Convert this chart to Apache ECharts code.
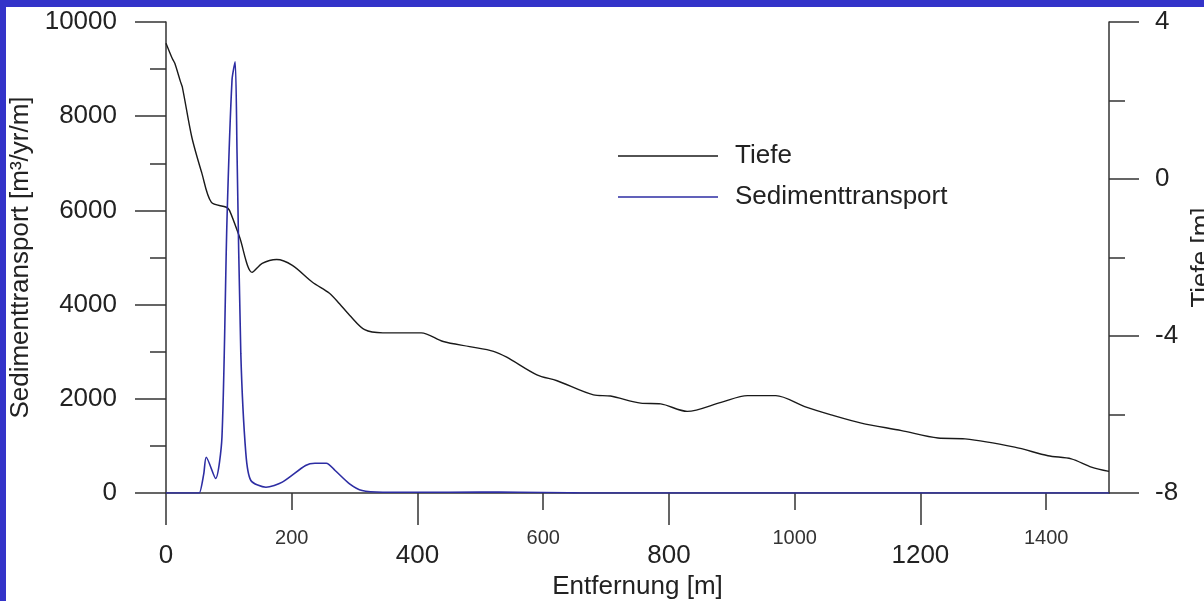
<!DOCTYPE html>
<html>
<head>
<meta charset="utf-8">
<script src="https://cdn.jsdelivr.net/npm/echarts@6/dist/echarts.min.js"></script>
<style>
html,body{margin:0;padding:0;background:#fff;}
#c{width:1204px;height:601px;}
</style>
</head>
<body>
<div id="c"></div>
<script>
// Tiefe (depth, right axis) [m] vs. Entfernung [m]
const tiefeDist = [0, 10, 14, 23, 26, 41, 57, 72, 96, 101, 117, 137, 153, 176, 201, 233, 260, 276, 292, 316, 345, 406, 441, 483, 521, 542, 590, 622, 680, 707, 755, 787, 829, 883, 925, 970, 1016, 1058, 1106, 1170, 1228, 1271, 1350, 1403, 1440, 1472, 1500];
const tiefeVal  = [3.46, 3.07, 2.95, 2.48, 2.34, 1.07, 0.15, -0.59, -0.72, -0.80, -1.48, -2.38, -2.15, -2.05, -2.20, -2.63, -2.91, -3.18, -3.47, -3.84, -3.92, -3.92, -4.14, -4.27, -4.39, -4.54, -4.99, -5.14, -5.50, -5.53, -5.71, -5.73, -5.92, -5.69, -5.52, -5.52, -5.80, -6.01, -6.22, -6.41, -6.60, -6.62, -6.83, -7.05, -7.13, -7.34, -7.45];

// Sedimenttransport (left axis) [m3/yr/m] vs. Entfernung [m]
const sedDist = [0, 50, 53, 60, 64, 79, 89, 97, 105, 110, 113, 119, 127, 135, 159, 185, 222, 237, 255, 269, 292, 312, 345, 400, 500, 560, 640, 660, 1000, 1500];
const sedVal  = [0, 0, 0, 400, 760, 308, 1186, 5790, 8766, 9155, 7214, 2964, 842, 266, 123, 230, 584, 633, 633, 478, 196, 53, 17, 15, 20, 15, 5, 0, 0, 0];

const xBigTicks = [0, 400, 800, 1200];
const xSmallTicks = [200, 600, 1000, 1400];
const legendNames = ['Tiefe', 'Sedimenttransport'];

const FONT = "'Liberation Sans', Arial, sans-serif";
const AX = '#333';
const TXT = '#222';

const chart = echarts.init(document.getElementById('c'), null, {renderer: 'canvas'});
const toPairs = (xs, ys) => xs.map((x, i) => [x, ys[i]]);

chart.setOption({
  backgroundColor: '#ffffff',
  animation: false,
  graphic: [
    {type: 'rect', left: 0, top: 0, shape: {width: 1204, height: 7}, style: {fill: '#3333c9'}, silent: true},
    {type: 'rect', left: 0, top: 0, shape: {width: 6, height: 601}, style: {fill: '#3333c9'}, silent: true}
  ],
  legend: {
    data: legendNames,
    orient: 'vertical',
    left: 618,
    top: 143,
    padding: 0,
    icon: 'rect',
    itemWidth: 100,
    itemHeight: 1.5,
    itemGap: 15,
    textStyle: {fontFamily: FONT, fontSize: 26, color: TXT, padding: [0, 0, 0, 12]}
  },
  grid: {left: 166, right: 95, top: 22, bottom: 108, containLabel: false, outerBoundsMode: 'none'},
  xAxis: [
    {
      type: 'value', min: 0, max: 1500, position: 'bottom',
      name: 'Entfernung [m]', nameLocation: 'middle', nameGap: 75,
      nameTextStyle: {fontFamily: FONT, fontSize: 26, color: TXT},
      axisLine: {show: true, onZero: false, lineStyle: {color: AX, width: 1.5}},
      axisTick: {show: true, length: 32, customValues: xBigTicks, lineStyle: {color: AX, width: 1.5}},
      axisLabel: {customValues: xBigTicks, margin: 50, fontFamily: FONT, fontSize: 26, color: TXT, formatter: v => String(v)},
      splitLine: {show: false}
    },
    {
      type: 'value', min: 0, max: 1500, position: 'bottom', gridIndex: 0,
      axisLine: {show: false, onZero: false},
      axisTick: {show: true, length: 17, customValues: xSmallTicks, lineStyle: {color: AX, width: 1.5}},
      axisLabel: {customValues: xSmallTicks, margin: 35, fontFamily: FONT, fontSize: 20, color: '#333', formatter: v => String(v)},
      splitLine: {show: false}
    }
  ],
  yAxis: [
    {
      type: 'value', min: 0, max: 10000, interval: 2000, position: 'left',
      name: 'Sedimenttransport [m³/yr/m]', nameLocation: 'middle', nameGap: 131, nameRotate: 90,
      nameTextStyle: {fontFamily: FONT, fontSize: 26, color: TXT},
      axisLine: {show: true, onZero: false, lineStyle: {color: AX, width: 1.5}},
      axisTick: {show: true, length: 31, lineStyle: {color: AX, width: 1.5}},
      minorTick: {show: true, splitNumber: 2, length: 16, lineStyle: {color: AX, width: 1.5}},
      axisLabel: {margin: 49, fontFamily: FONT, fontSize: 26, color: TXT, formatter: v => String(v)},
      splitLine: {show: false}
    },
    {
      type: 'value', min: -8, max: 4, interval: 4, position: 'right',
      name: 'Tiefe [m]', nameLocation: 'middle', nameGap: 77, nameRotate: 90,
      nameTextStyle: {fontFamily: FONT, fontSize: 26, color: TXT},
      axisLine: {show: true, onZero: false, lineStyle: {color: AX, width: 1.5}},
      axisTick: {show: true, length: 30, lineStyle: {color: AX, width: 1.5}},
      minorTick: {show: true, splitNumber: 2, length: 16, lineStyle: {color: AX, width: 1.5}},
      axisLabel: {margin: 46, fontFamily: FONT, fontSize: 26, color: TXT, formatter: v => String(v)},
      splitLine: {show: false}
    }
  ],
  series: [
    {
      name: 'Tiefe', type: 'line', xAxisIndex: 0, yAxisIndex: 1,
      data: toPairs(tiefeDist, tiefeVal),
      symbol: 'none', smooth: 0.3,
      lineStyle: {color: '#1a1a1a', width: 1.4},
      itemStyle: {color: '#1a1a1a'}
    },
    {
      name: 'Sedimenttransport', type: 'line', xAxisIndex: 0, yAxisIndex: 0,
      data: toPairs(sedDist, sedVal),
      symbol: 'none', smooth: 0.25,
      lineStyle: {color: '#2d2da3', width: 1.6},
      itemStyle: {color: '#2d2da3'}
    }
  ]
});
</script>
</body>
</html>
